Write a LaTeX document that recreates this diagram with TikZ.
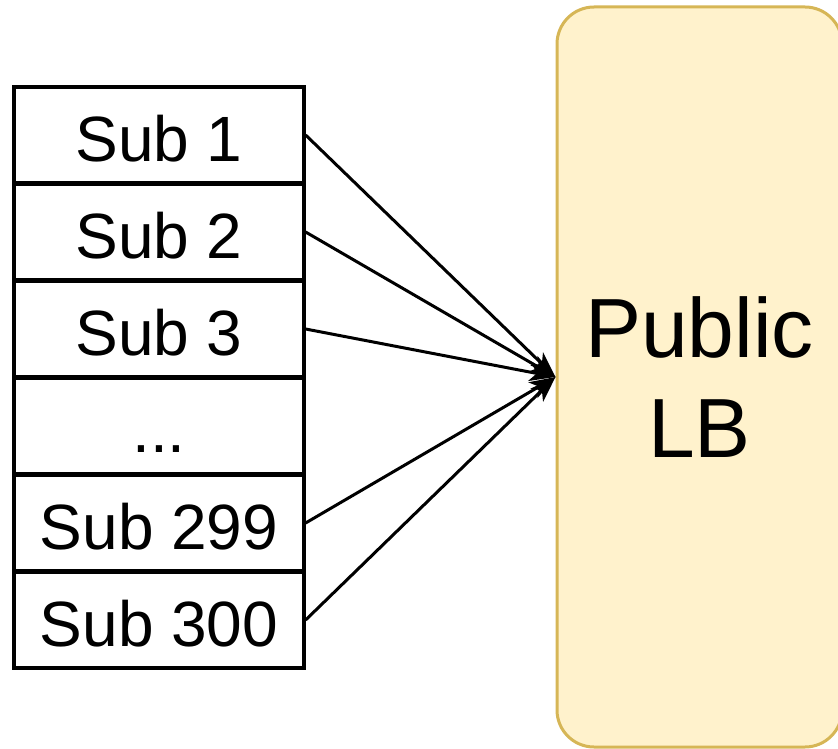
\documentclass[tikz,border=0pt]{standalone}
\usepackage{fontspec}
\setmainfont{Liberation Sans}
\usetikzlibrary{arrows.meta}
\definecolor{lbfill}{HTML}{FFF2CC}
\definecolor{lbdraw}{HTML}{D6B656}
\begin{document}
\begin{tikzpicture}[x=1pt,y=-1pt,
  subbox/.style={draw=black, line width=3.2pt, minimum width=290pt, minimum height=96pt,
    inner sep=0pt, text height=53pt, text depth=0pt, font=\fontsize{64}{70}\selectfont},
  lbbox/.style={draw=lbdraw, fill=lbfill, line width=3pt, rounded corners=37pt,
    minimum width=285pt, minimum height=740pt, inner sep=0pt, align=center,
    font=\fontsize{84}{100}\selectfont},
  conn/.style={line width=3pt, -{Stealth[length=26pt, width=18pt, inset=7pt]}}]
\useasboundingbox (0,0) rectangle (838,749);
\node[lbbox] (lb) at (699.5,377) {Public\\LB};
\node[subbox] (s1) at (159,135) {Sub 1};
\node[subbox] (s2) at (159,232) {Sub 2};
\node[subbox] (s3) at (159,329) {Sub 3};
\node[subbox] (s4) at (159,426) {...};
\node[subbox] (s5) at (159,523) {Sub 299};
\node[subbox] (s6) at (159,620) {Sub 300};
\foreach \s in {s1,s2,s3,s5,s6}
  \draw[conn] (\s.east) -- (lb.west);
\end{tikzpicture}
\end{document}
